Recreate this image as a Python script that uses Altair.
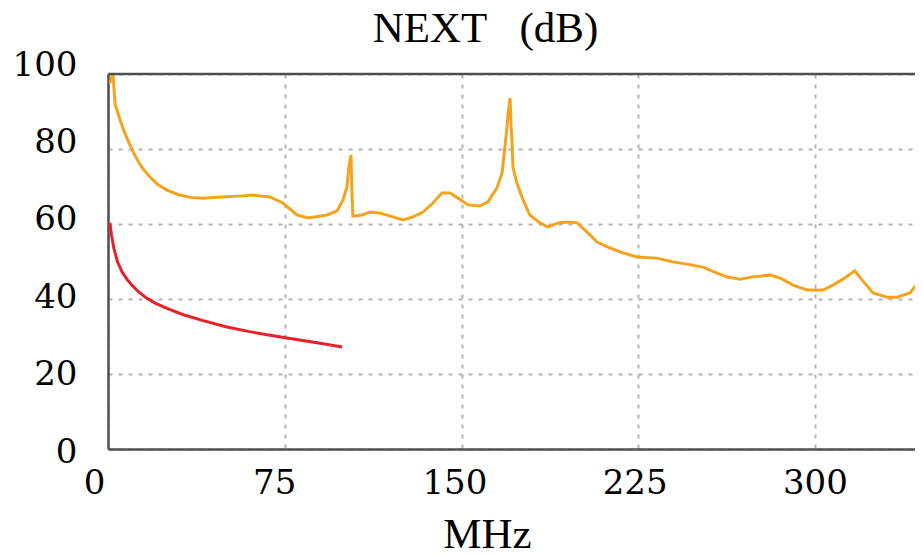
import altair as alt
import pandas as pd

# NEXT curve (orange)
next_mhz = [0.8, 2.1, 3.0, 5.0, 7.0, 9.0, 11.0, 13.0, 15.0, 18.0, 21.0, 25.0, 30.0, 35.0, 40.0,
            48.4, 57.3, 61.5, 68.7, 74.2, 80.2, 84.9, 92.9, 97.2, 99.7, 101.4, 102.2, 103.1, 103.5, 103.9,
            107.8, 111.2, 115.4, 120.9, 125.2, 129.4, 133.6, 137.9, 141.7, 145.1, 148.5, 152.7, 157.8, 161.2,
            165.0, 167.2, 168.4, 169.3, 169.7, 170.6, 171.0, 171.4, 171.8, 173.5, 176.1, 179.0, 183.3, 186.7,
            190.9, 195.2, 199.0, 203.2, 207.5, 213.0, 218.5, 224.4, 232.9, 239.7, 245.6, 252.4, 258.4, 262.6,
            268.1, 273.6, 280.9, 285.1, 290.6, 296.6, 303.4, 307.6, 311.8, 316.9, 319.9, 324.6, 330.5, 334.7,
            340.3, 344.5, 348.0]
next_db = [97.6, 100.0, 92.0, 88.0, 84.5, 81.5, 78.8, 76.5, 74.6, 72.4, 70.6, 69.0, 67.8, 67.1, 66.9,
           67.2, 67.5, 67.7, 67.2, 65.6, 62.4, 61.6, 62.4, 63.5, 66.4, 69.9, 75.2, 78.4, 68.3, 62.1,
           62.4, 63.2, 62.9, 61.9, 61.1, 61.9, 63.2, 65.6, 68.3, 68.3, 66.9, 65.1, 64.8, 65.9,
           69.6, 73.6, 80.5, 85.9, 89.0, 93.6, 86.4, 82.4, 75.2, 70.9, 66.4, 62.4, 60.3, 59.2,
           60.3, 60.5, 60.3, 57.9, 55.2, 53.6, 52.3, 51.2, 50.9, 49.9, 49.3, 48.5, 46.9, 45.9,
           45.3, 45.9, 46.4, 45.6, 43.7, 42.4, 42.4, 43.7, 45.3, 47.5, 45.1, 41.6, 40.5, 40.5,
           41.6, 45.1, 47.7]

# Limit curve (red)
limit_mhz = [0.8, 1.5, 2.5, 4.0, 6.0, 8.0, 10.0, 13.0, 16.0, 20.0, 25.0, 32.0, 40.0, 50.0, 60.0, 70.0, 80.0, 90.0, 99.3]
limit_db = [60.3, 57.0, 53.5, 50.0, 47.2, 45.3, 43.8, 41.9, 40.4, 38.9, 37.5, 35.8, 34.3, 32.6, 31.3, 30.2, 29.2, 28.2, 27.2]

x_ticks = [0, 75, 150, 225, 300]
y_ticks = [0, 20, 40, 60, 80, 100]
frame_top = [100]

df_next = pd.DataFrame({"MHz": next_mhz, "dB": next_db})
df_limit = pd.DataFrame({"MHz": limit_mhz, "dB": limit_db})
df_top = pd.DataFrame({"dB": frame_top})

FRAME = "#505050"
GRID = "#b4b4b4"

xscale = alt.Scale(domain=[0, 342.4], nice=False, zero=False)
yscale = alt.Scale(domain=[0, 100], nice=False)

x_axis = alt.Axis(
    values=x_ticks, title="MHz", format="d",
    labelFont="DejaVu Serif", labelFontSize=34, labelColor="black",
    labelPadding=44, labelBaseline="alphabetic", labelFlush=False, labelOverlap=False,
    labelOffset={"expr": "-14 + 0.046*datum.value"},
    ticks=False, tickSize=0,
    domainColor=FRAME, domainWidth=2.5,
    grid=True, gridColor=GRID, gridDash=[4, 6], gridWidth=2,
    titleFont="Liberation Serif", titleFontSize=43, titleFontWeight="normal", titleColor="black",
    titleX=379, titleY=98, titleAlign="center", titleBaseline="alphabetic",
)
y_axis = alt.Axis(
    values=y_ticks, title=None, format="d",
    labelFont="DejaVu Serif", labelFontSize=34, labelColor="black",
    labelPadding=31, labelBaseline="middle", labelFlush=False, labelOverlap=False,
    labelOffset={"expr": "3 - 0.12*datum.value"},
    ticks=False, tickSize=0,
    domainColor=FRAME, domainWidth=2.5,
    grid=True, gridColor=GRID, gridDash=[4, 6], gridWidth=2,
)

next_line = alt.Chart(df_next).mark_line(color="#f5a31c", strokeWidth=3, clip=True).encode(
    x=alt.X("MHz:Q", scale=xscale, axis=x_axis),
    y=alt.Y("dB:Q", scale=yscale, axis=y_axis),
)
limit_line = alt.Chart(df_limit).mark_line(color="#e8202a", strokeWidth=3, clip=True).encode(
    x=alt.X("MHz:Q", scale=xscale, axis=x_axis),
    y=alt.Y("dB:Q", scale=yscale, axis=y_axis),
)
top_rule = alt.Chart(df_top).mark_rule(color=FRAME, strokeWidth=2.5).encode(
    y=alt.Y("dB:Q", scale=yscale, axis=y_axis),
)

chart = alt.layer(limit_line, next_line, top_rule).properties(
    width=807,
    height=375,
    autosize=alt.AutoSizeParams(type="none"),
    padding={"left": 100, "top": 66, "right": 0, "bottom": 105},
    background="white",
    title=alt.TitleParams(
        "NEXT\u2002\u00a0(dB)", font="Liberation Serif", fontSize=43,
        fontWeight="normal", color="black", anchor="middle", frame="group",
        dx=-26, baseline="alphabetic", offset=-37,
    ),
).configure_view(stroke=None)

chart.save("out.html", embed_options={"renderer": "svg", "actions": False})
